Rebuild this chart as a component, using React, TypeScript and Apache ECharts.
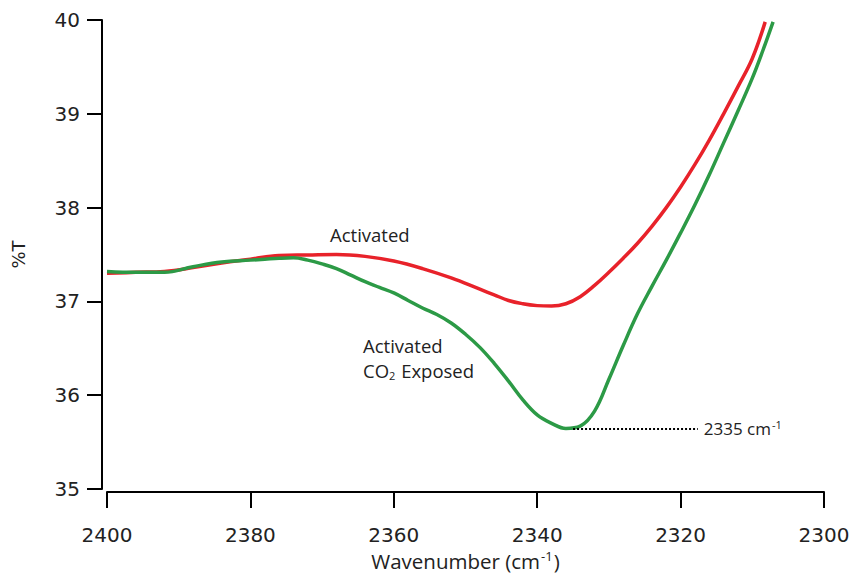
import React, { useEffect, useRef } from "react";
import * as echarts from "echarts";

const activatedWavenumber = [
  2400, 2396, 2392, 2388, 2384, 2380, 2376, 2372, 2368, 2364, 2360, 2356, 2352, 2348, 2346, 2344,
  2342, 2340, 2338, 2336, 2334, 2332, 2330, 2328, 2326, 2324, 2322, 2320, 2318, 2316, 2314, 2312,
  2310, 2308.2,
];
const activatedT = [
  37.3, 37.31, 37.32, 37.36, 37.41, 37.45, 37.49, 37.495, 37.5, 37.48, 37.43, 37.35, 37.25, 37.13,
  37.07, 37.01, 36.975, 36.955, 36.95, 36.975, 37.05, 37.17, 37.31, 37.46, 37.62, 37.8, 38.0,
  38.22, 38.46, 38.72, 39.0, 39.29, 39.59, 39.98,
];

const exposedWavenumber = [
  2400, 2396, 2392, 2388, 2384, 2380, 2378, 2376, 2374, 2372, 2370, 2368, 2366, 2364, 2362, 2360,
  2358, 2356, 2354, 2352, 2350, 2348, 2346, 2344, 2342, 2340, 2338, 2336, 2334, 2332, 2330, 2328,
  2326, 2324, 2322, 2320, 2318, 2316, 2314, 2312, 2310, 2308.5, 2307.1,
];
const exposedT = [
  37.32, 37.31, 37.31, 37.37, 37.42, 37.44, 37.45, 37.46, 37.465, 37.44, 37.4, 37.35, 37.28,
  37.21, 37.15, 37.09, 37.01, 36.93, 36.86, 36.77, 36.65, 36.51, 36.34, 36.15, 35.95, 35.79,
  35.7, 35.645, 35.67, 35.83, 36.17, 36.53, 36.87, 37.16, 37.44, 37.73, 38.03, 38.35, 38.69,
  39.03, 39.38, 39.68, 39.98,
];

const xTicks = [2400, 2380, 2360, 2340, 2320, 2300];
const yTicks = [35, 36, 37, 38, 39, 40];

const peakWavenumber = 2335;
const peakT = 35.64;
const peakLineEnd = 2317.6;

const seriesNames = ["Activated", "Activated CO2 Exposed"];

export default function App() {
  const ref = useRef<HTMLDivElement>(null);

  useEffect(() => {
    if (!ref.current) return;
    const chart = echarts.init(ref.current, undefined, { renderer: "svg" });
    const tickFont = "DejaVu Sans, Verdana, sans-serif";
    const annFont = "Open Sans, Lato, sans-serif";
    const textColor = "#222";

    chart.setOption({
      animation: false,
      backgroundColor: "#ffffff",
      grid: { left: 107, right: 29, top: 20, bottom: 86, outerBoundsMode: "none", containLabel: false },
      xAxis: {
        type: "value",
        inverse: true,
        min: xTicks[xTicks.length - 1],
        max: xTicks[0],
        interval: 20,
        offset: 3,
        name: "{t|Wavenumber (cm}{s|-1}{t|)}",
        nameLocation: "middle",
        nameGap: 50,
        nameTextStyle: {
          rich: {
            t: { fontFamily: annFont, fontSize: 20.5, lineHeight: 22, color: textColor, verticalAlign: "bottom" },
            s: { fontFamily: annFont, fontSize: 13, lineHeight: 14, color: textColor, verticalAlign: "top", padding: [0, 1, 10, 1] },
          },
        },
        axisLine: { show: true, lineStyle: { color: "#000", width: 2 } },
        axisTick: { show: true, length: 16, inside: false, lineStyle: { color: "#000", width: 2 } },
        axisLabel: {
          margin: 33,
          fontFamily: tickFont,
          fontSize: 20,
          color: textColor,
          formatter: (v: number) => String(v),
        },
        splitLine: { show: false },
      },
      yAxis: {
        type: "value",
        min: yTicks[0],
        max: yTicks[yTicks.length - 1],
        interval: 1,
        offset: 5,
        name: "%T",
        nameLocation: "middle",
        nameRotate: 90,
        nameGap: 75,
        nameTextStyle: { fontFamily: tickFont, fontSize: 18, color: textColor },
        axisLine: { show: true, lineStyle: { color: "#000", width: 2 } },
        axisTick: { show: true, length: 15, inside: false, lineStyle: { color: "#000", width: 2 } },
        axisLabel: {
          margin: 22,
          fontFamily: tickFont,
          fontSize: 20,
          color: textColor,
          formatter: (v: number) => String(v),
        },
        splitLine: { show: false },
      },
      series: [
        {
          name: seriesNames[0],
          type: "line",
          smooth: 0.4,
          showSymbol: false,
          lineStyle: { color: "#e8222a", width: 3.5 },
          data: activatedWavenumber.map((w, i) => [w, activatedT[i]]),
          z: 2,
        },
        {
          name: seriesNames[1],
          type: "line",
          smooth: 0.4,
          showSymbol: false,
          lineStyle: { color: "#2c9a46", width: 3.5 },
          data: exposedWavenumber.map((w, i) => [w, exposedT[i]]),
          z: 3,
          markLine: {
            silent: true,
            symbol: ["none", "none"],
            lineStyle: { color: "#000", type: [2, 2], width: 2 },
            label: {
              show: true,
              position: "end",
              distance: 6,
              formatter: "{t|2335 cm}{s|-1}",
              rich: {
                t: { fontFamily: annFont, fontSize: 17, color: textColor },
                s: { fontFamily: annFont, fontSize: 11, color: textColor, padding: [0, 0, 9, 1] },
              },
            },
            data: [[{ coord: [peakWavenumber, peakT] }, { coord: [peakLineEnd, peakT] }]],
          },
        },
      ],
      graphic: [
        {
          type: "text",
          left: 330,
          top: 225,
          style: { text: "Activated", fontFamily: annFont, fontSize: 18.5, fill: textColor },
        },
        {
          type: "text",
          left: 363,
          top: 336,
          style: {
            text: "{t|Activated}\n{t|CO}{s|2}{t| Exposed}",
            rich: {
              t: { fontFamily: annFont, fontSize: 18.5, fill: textColor, lineHeight: 25 },
              s: { fontFamily: annFont, fontSize: 11, fill: textColor, padding: [10, 1, 0, 0], lineHeight: 25 },
            },
          },
        },
      ],
    });

    return () => chart.dispose();
  }, []);

  return <div ref={ref} style={{ width: 853, height: 575, position: "absolute", left: 0, top: 0 }} />;
}
